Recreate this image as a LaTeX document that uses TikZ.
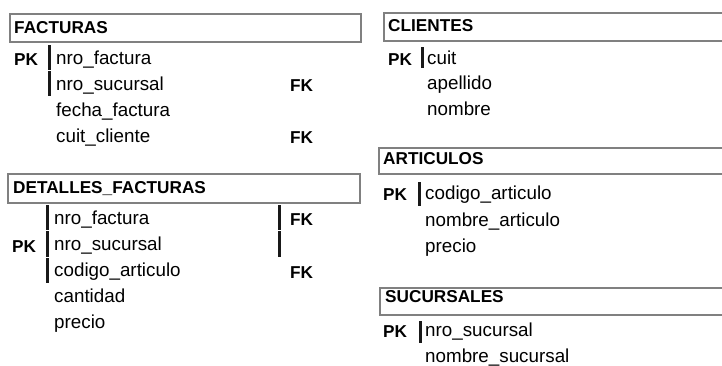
\documentclass[tikz,border=0pt]{standalone}
\usepackage{fontspec}
\setmainfont{Liberation Sans}
\begin{document}
\begin{tikzpicture}[x=1pt,y=-1pt,
  tbox/.style={draw=black!50,line width=1.5pt,fill=white,inner sep=0pt,anchor=north west},
  ttl/.style={anchor=base west,inner sep=0pt,font=\bfseries\fontsize{17.2}{17}\selectfont},
  fld/.style={anchor=base west,inner sep=0pt,font=\fontsize{18.8}{18.5}\selectfont},
  key/.style={anchor=base west,inner sep=0pt,font=\bfseries\fontsize{17.2}{17}\selectfont},
  kbar/.style={line width=3pt,draw=black!90}]
\useasboundingbox (0,0) rectangle (722,365);
\begin{scope}
\clip (0,0) rectangle (722,365);
% FACTURAS
\node[tbox,minimum width=351pt,minimum height=28pt] (fb) at (9,13) {};
\node[ttl] (ft) at (14,33) {FACTURAS};
\node[key] (fpk) at (14,65.5) {PK};
\node[fld] (f1) at (56,64) {nro\_factura};
\node[fld] (f2) at (56,90.5) {nro\_sucursal};
\node[fld] (f3) at (56,116.5) {fecha\_factura};
\node[fld] (f4) at (56,142.5) {cuit\_cliente};
\node[key] (ffk1) at (290,91.5) {FK};
\node[key] (ffk2) at (290,143.5) {FK};
\coordinate (fa1) at (49.5,45); \coordinate (fa2) at (49.5,70);
\coordinate (fa3) at (49.5,71); \coordinate (fa4) at (49.5,96);
\draw[kbar] (fa1) -- (fa2);
\draw[kbar] (fa3) -- (fa4);
% DETALLES_FACTURAS
\node[tbox,minimum width=352pt,minimum height=29pt] (db) at (7,173) {};
\node[ttl] (dt) at (13,193.5) {DETALLES\_FACTURAS};
\node[key] (dpk) at (12,252) {PK};
\node[fld] (d1) at (54,224) {nro\_factura};
\node[fld] (d2) at (54,250.5) {nro\_sucursal};
\node[fld] (d3) at (54,276.5) {codigo\_articulo};
\node[fld] (d4) at (54,302.5) {cantidad};
\node[fld] (d5) at (54,328.5) {precio};
\node[key] (dfk1) at (290,225.5) {FK};
\node[key] (dfk2) at (290,278) {FK};
\coordinate (da1) at (47.5,205); \coordinate (da2) at (47.5,230);
\coordinate (da3) at (47.5,231); \coordinate (da4) at (47.5,257);
\coordinate (da5) at (47.5,258); \coordinate (da6) at (47.5,283);
\draw[kbar] (da1) -- (da2);
\draw[kbar] (da3) -- (da4);
\draw[kbar] (da5) -- (da6);
\coordinate (dk1) at (279.5,205); \coordinate (dk2) at (279.5,230);
\coordinate (dk3) at (279.5,231); \coordinate (dk4) at (279.5,257);
\draw[kbar] (dk1) -- (dk2);
\draw[kbar] (dk3) -- (dk4);
% CLIENTES
\node[tbox,minimum width=350pt,minimum height=28pt] (cb) at (383,12) {};
\node[ttl] (ct) at (388,31) {CLIENTES};
\node[key] (cpk) at (388,65) {PK};
\node[fld] (c1) at (427,64.5) {cuit};
\node[fld] (c2) at (427,89.5) {apellido};
\node[fld] (c3) at (427,115) {nombre};
\coordinate (ca1) at (422.5,47); \coordinate (ca2) at (422.5,68);
\draw[kbar] (ca1) -- (ca2);
% ARTICULOS
\node[tbox,minimum width=355pt,minimum height=26pt] (ab) at (378,147) {};
\node[ttl] (at1) at (383,164) {ARTICULOS};
\node[key] (apk) at (383,200) {PK};
\node[fld] (a1) at (425,199) {codigo\_articulo};
\node[fld] (a2) at (425,226) {nombre\_articulo};
\node[fld] (a3) at (425,252.5) {precio};
\coordinate (aa1) at (419.5,182); \coordinate (aa2) at (419.5,206);
\draw[kbar] (aa1) -- (aa2);
% SUCURSALES
\node[tbox,minimum width=355pt,minimum height=27pt] (sb) at (379,287) {};
\node[ttl] (st) at (385,302.5) {SUCURSALES};
\node[key] (spk) at (383,337.5) {PK};
\node[fld] (s1) at (425,336.5) {nro\_sucursal};
\node[fld] (s2) at (425,362.5) {nombre\_sucursal};
\coordinate (sa1) at (420.5,321); \coordinate (sa2) at (420.5,343);
\draw[kbar] (sa1) -- (sa2);
\end{scope}
\end{tikzpicture}
\end{document}
